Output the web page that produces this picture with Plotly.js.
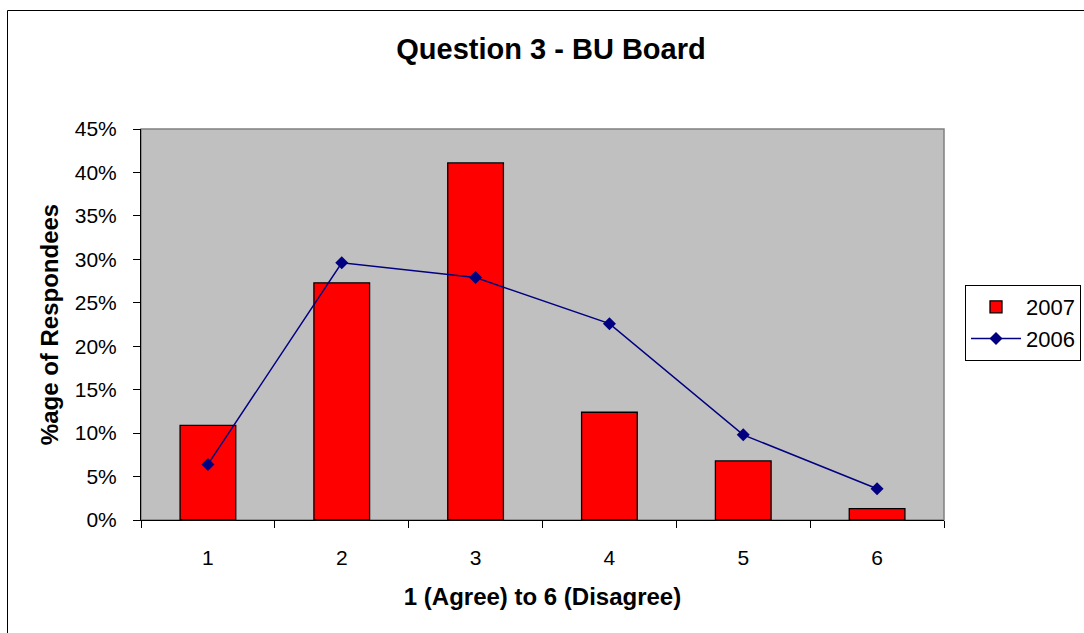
<!DOCTYPE html>
<html>
<head>
<meta charset="utf-8">
<script src="https://cdn.plot.ly/plotly-3.0.1.min.js"></script>
<style>
  html, body { margin: 0; padding: 0; background: #ffffff; }
  #chart { width: 1084px; height: 633px; }
</style>
</head>
<body>
<div id="chart"></div>
<script>
// Data
const categories = ['1', '2', '3', '4', '5', '6'];
const values2007 = [10.9, 27.3, 41.1, 12.4, 6.8, 1.3];
const values2006 = [6.4, 29.6, 27.9, 22.6, 9.8, 3.6];
const yTickVals = [0, 5, 10, 15, 20, 25, 30, 35, 40, 45];
const chartTitle = 'Question 3 - BU Board';
const xTitle = '1 (Agree) to 6 (Disagree)';
const yTitle = '%age of Respondees';

const FONT = '"Liberation Sans", Arial, sans-serif';

const traces = [
  {
    type: 'bar',
    name: '2007',
    x: categories,
    y: values2007,
    marker: { color: '#FF0000', line: { color: '#000000', width: 1.3 } },
    legendgroup: 'a',
    hoverinfo: 'x+y'
  },
  {
    type: 'scatter',
    mode: 'lines+markers',
    name: '2006',
    x: categories,
    y: values2006,
    line: { color: '#000080', width: 1.5 },
    marker: { symbol: 'diamond', size: 10, color: '#000080' },
    legendgroup: 'b',
    hoverinfo: 'x+y'
  }
];

const layout = {
  width: 1084,
  height: 633,
  margin: { l: 141, r: 140, t: 129, b: 113, pad: 0, autoexpand: false },
  paper_bgcolor: '#ffffff',
  plot_bgcolor: '#C0C0C0',
  font: { family: FONT, color: '#000000', size: 21 },
  title: {
    text: '<b>' + chartTitle + '</b>',
    font: { family: FONT, size: 29, color: '#000000' },
    xref: 'container', x: 551 / 1084, xanchor: 'center',
    yref: 'container', y: 1 - 49 / 633, yanchor: 'middle'
  },
  bargap: 0.584,
  showlegend: true,
  legend: {
    x: (965 - 141) / 803, xanchor: 'left',
    y: (520 - 285) / 391, yanchor: 'top',
    bgcolor: '#ffffff',
    bordercolor: '#000000',
    borderwidth: 1,
    font: { family: FONT, size: 22, color: '#000000' },
    itemwidth: 50,
    tracegroupgap: 6,
    traceorder: 'normal'
  },
  xaxis: {
    type: 'category',
    categoryorder: 'array',
    categoryarray: categories,
    tickson: 'boundaries',
    ticks: 'outside',
    ticklen: 7,
    tickcolor: '#000000',
    tickwidth: 1,
    showline: true,
    linecolor: '#000000',
    linewidth: 1,
    showgrid: false,
    zeroline: false,
    ticklabelstandoff: 19,
    tickfont: { family: FONT, size: 21, color: '#000000' },
    title: {
      text: '<b>' + xTitle + '</b>',
      font: { family: FONT, size: 24, color: '#000000' },
      standoff: 19
    }
  },
  yaxis: {
    range: [0, 45],
    tickmode: 'array',
    tickvals: yTickVals,
    ticktext: yTickVals.map(v => v + '%'),
    ticks: 'outside',
    ticklen: 7,
    tickcolor: '#000000',
    tickwidth: 1,
    showline: true,
    linecolor: '#000000',
    linewidth: 1,
    showgrid: false,
    zeroline: false,
    ticklabelstandoff: 12,
    tickfont: { family: FONT, size: 21, color: '#000000' },
    title: {
      text: '<b>' + yTitle + '</b>',
      font: { family: FONT, size: 24, color: '#000000' },
      standoff: 9
    }
  },
  shapes: [
    // plot-area border (top/right gray)
    {
      type: 'rect', xref: 'paper', yref: 'paper',
      x0: 0, x1: 1, y0: 0, y1: 1,
      line: { color: '#808080', width: 1.5 },
      layer: 'below'
    },
    // outer chart frame
    {
      type: 'rect', xref: 'paper', yref: 'paper',
      x0: (7.5 - 141) / 803, x1: 1.25,
      y0: -0.4, y1: (520 - 10.5) / 391,
      line: { color: '#000000', width: 1 },
      fillcolor: 'rgba(0,0,0,0)',
      layer: 'above'
    }
  ]
};

Plotly.newPlot('chart', traces, layout, { displayModeBar: false, responsive: false, staticPlot: true });
</script>
</body>
</html>
